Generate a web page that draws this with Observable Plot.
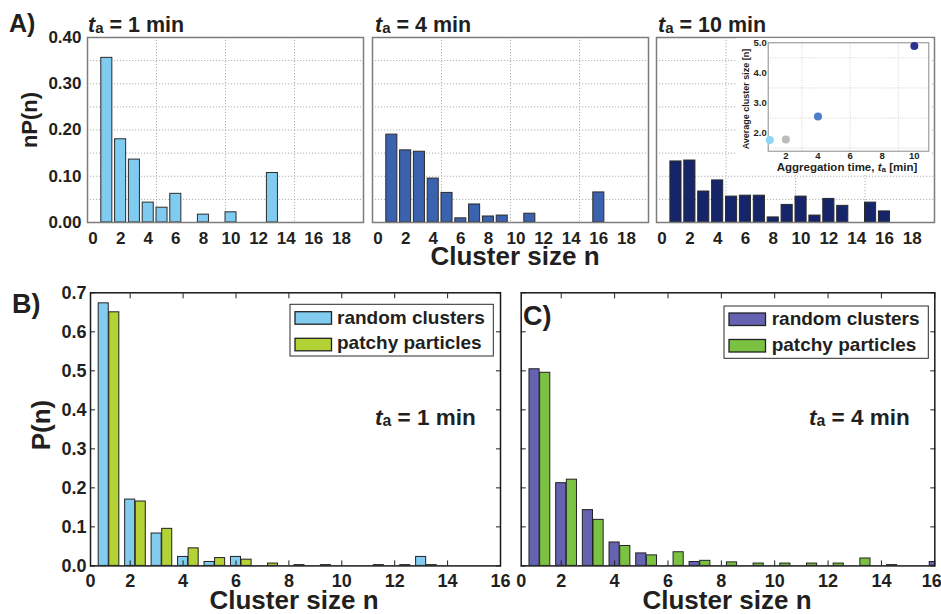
<!DOCTYPE html>
<html><head><meta charset="utf-8">
<script src="https://cdn.jsdelivr.net/npm/d3@7"></script>
<script src="https://cdn.jsdelivr.net/npm/@observablehq/plot@0.6"></script>
<style>
body{margin:0;background:#fff;}
#root{position:relative;width:941px;height:614px;overflow:hidden;background:#fff;}
#root svg{position:absolute;}
</style></head><body><div id="root"></div>
<script>
// ---------- data ----------
const sizesA1 = [1, 2, 3, 4, 5, 6, 8, 10, 13];
const nPA1 = [0.356, 0.180, 0.136, 0.043, 0.032, 0.062, 0.017, 0.022, 0.107];
const sizesA2 = [1, 2, 3, 4, 5, 6, 7, 8, 9, 11, 16];
const nPA2 = [0.190, 0.156, 0.153, 0.095, 0.064, 0.009, 0.039, 0.013, 0.015, 0.019, 0.065];
const sizesA3 = [1, 2, 3, 4, 5, 6, 7, 8, 9, 10, 11, 12, 13, 15, 16];
const nPA3 = [0.132, 0.134, 0.067, 0.091, 0.056, 0.058, 0.058, 0.011, 0.038, 0.056, 0.015, 0.051, 0.036, 0.043, 0.024];
const titlesA = ["1 min", "4 min", "10 min"];

const insetTimes = [1, 2, 4, 10];
const insetAvg = [1.77, 1.79, 2.55, 4.89];
const insetColors = ["#8fd6f6", "#bcbcbc", "#4a7ec9", "#29338f"];

const sizesBC = [1, 2, 3, 4, 5, 6, 7, 8, 9, 10, 11, 12, 13, 14, 15, 16];
const randomB = [0.673, 0.170, 0.083, 0.023, 0.010, 0.023, 0, 0, 0, 0, 0, 0, 0.023, 0, 0, 0];
const patchyB = [0.650, 0.165, 0.095, 0.045, 0.020, 0.016, 0.006, 0.002, 0.002, 0, 0.002, 0.002, 0.002, 0, 0, 0];
const randomC = [0.504, 0.212, 0.143, 0.060, 0.032, 0, 0.010, 0, 0, 0, 0, 0, 0, 0, 0, 0.010];
const patchyC = [0.495, 0.221, 0.118, 0.051, 0.027, 0.035, 0.013, 0.009, 0.006, 0.006, 0.006, 0.006, 0.019, 0.002, 0, 0];
const seriesNames = ["random clusters", "patchy particles"];

const ticksAX = [0, 2, 4, 6, 8, 10, 12, 14, 16, 18];
const ticksAY = [0, 0.1, 0.2, 0.3, 0.4];
const gridAY = [0.05, 0.1, 0.15, 0.2, 0.25, 0.3, 0.35];
const gridAX = [4.6, 9.6, 14.6];
const ticksBCX = [0.5, 2, 4, 6, 8, 10, 12, 14, 16];
const ticksBCY = [0, 0.1, 0.2, 0.3, 0.4, 0.5, 0.6, 0.7];
const insetTicksX = [2, 4, 6, 8, 10];
const insetTicksY = [2, 3, 4, 5];
const insetGridX = [3, 6, 9];
const insetGridY = [1.5, 2.5, 3.5, 4.5];

// ---------- styles ----------
const FONT = '"Liberation Sans", Arial, Helvetica, sans-serif';
const INK = "#231f20";
const colA = ["#80ccf0", "#3b62ae", "#16246a"];
const colB = ["#82cdef", "#b2d235"];
const colC = ["#6462b1", "#7cc242"];
const root = document.getElementById("root");

function place(el, left, top) {
  el.style.left = left + "px";
  el.style.top = top + "px";
  root.appendChild(el);
}

function panelA(sizes, vals, color, o) {
  const data = sizes.map((n, i) => ({n, v: vals[i]}));
  return Plot.plot({
    width: o.width, height: 250,
    marginLeft: o.ml, marginRight: o.mr, marginTop: 37, marginBottom: 28,
    x: {domain: [-0.4, 19.6], label: null},
    y: {domain: [0, 0.4], label: null, axis: o.yAxis ? undefined : null},
    style: {fontFamily: FONT, color: INK, background: "transparent", overflow: "visible"},
    marks: [
      Plot.gridY(gridAY, {stroke: "#9c9c9c", strokeOpacity: 1, strokeWidth: 0.8, strokeDasharray: "1.2,1.8"}),
      Plot.gridX(gridAX, {stroke: "#9c9c9c", strokeOpacity: 1, strokeWidth: 0.8, strokeDasharray: "1.2,1.8"}),
      Plot.rectY(data, {x1: d => d.n - 0.4, x2: d => d.n + 0.4, y: "v", fill: color, stroke: "#2b2b2b", strokeWidth: 1}),
      Plot.frame({stroke: "#7d7d7d", strokeWidth: 1.5}),
      Plot.axisX(ticksAX, {tickSize: 0, tickPadding: 9, fontSize: 17, fontWeight: "bold", label: null}),
      o.yAxis ? Plot.axisY(ticksAY, {tickSize: 0, tickPadding: 6, tickFormat: ".2f", fontSize: 17, fontWeight: "bold", label: null}) : null
    ]
  });
}

place(panelA(sizesA1, nPA1, colA[0], {width: 370, ml: 87, mr: 7, yAxis: true}), 0, 0);
place(panelA(sizesA2, nPA2, colA[1], {width: 290, ml: 8, mr: 6, yAxis: false}), 364, 0);
place(panelA(sizesA3, nPA3, colA[2], {width: 291, ml: 6, mr: 7, yAxis: false}), 650, 0);

// inset
const insetData = insetTimes.map((t, i) => ({t, avg: insetAvg[i], c: insetColors[i]}));
place(Plot.plot({
  width: 196, height: 136,
  marginLeft: 31.7, marginRight: 3.7, marginTop: 4.3, marginBottom: 23.3,
  x: {domain: [0.9, 10.9], label: null},
  y: {domain: [1.4, 5.0], label: null},
  style: {fontFamily: FONT, color: INK, background: "white", overflow: "visible"},
  marks: [
    Plot.gridX(insetGridX, {stroke: "#bdbdbd", strokeOpacity: 1, strokeWidth: 0.7, strokeDasharray: "1,1.5"}),
    Plot.gridY(insetGridY, {stroke: "#bdbdbd", strokeOpacity: 1, strokeWidth: 0.7, strokeDasharray: "1,1.5"}),
    Plot.frame({stroke: "#8a8a8a", strokeWidth: 1}),
    Plot.dot(insetData, {x: "t", y: "avg", r: 4, fill: d => d.c, stroke: "none"}),
    Plot.axisX(insetTicksX, {tickSize: 0, tickPadding: 1.5, fontSize: 9.5, fontWeight: "bold", label: null}),
    Plot.axisY(insetTicksY, {tickSize: 0, tickPadding: 1.5, tickFormat: ".1f", fontSize: 9.5, fontWeight: "bold", label: null})
  ]
}), 736, 38);

function panelBC(random, patchy, cols, o) {
  const dR = sizesBC.map((n, i) => ({n, v: random[i]})).filter(d => d.v > 0);
  const dG = sizesBC.map((n, i) => ({n, v: patchy[i]})).filter(d => d.v > 0);
  const blank = () => "";
  const tk = {stroke: INK, strokeWidth: 1, label: null, tickFormat: blank, tickSize: 5};
  const lab = {anchor: "bottom", tickSize: 0, tickPadding: 8, fontSize: 18, fontWeight: "bold", label: null,
    tickFormat: d => (d < 1 ? "0" : String(d))};
  const last = ticksBCX[ticksBCX.length - 1];
  return Plot.plot({
    width: o.width, height: 334,
    marginLeft: o.ml, marginRight: o.mr, marginTop: 12.3, marginBottom: 48.6,
    x: {domain: [0.5, 16], label: null},
    y: {domain: [0, 0.7], label: null},
    style: {fontFamily: FONT, color: INK, background: "transparent", overflow: "visible"},
    marks: [
      Plot.rectY(dR, {x1: d => d.n - 0.19, x2: d => d.n + 0.19, y: "v", fill: cols[0], stroke: "#222", strokeWidth: 1, clip: true}),
      Plot.rectY(dG, {x1: d => d.n + 0.21, x2: d => d.n + 0.59, y: "v", fill: cols[1], stroke: "#222", strokeWidth: 1, clip: true}),
      Plot.axisX(ticksBCX.slice(1), {...tk, anchor: "bottom", dy: -5}),
      Plot.axisX(ticksBCX.slice(1), {...tk, anchor: "top", dy: 5}),
      Plot.axisY(ticksBCY, {...tk, anchor: "left", dx: 5}),
      Plot.axisY(ticksBCY, {...tk, anchor: "right", dx: -5}),
      Plot.axisX(o.endLabel ? ticksBCX.slice(0, -1) : ticksBCX, lab),
      o.endLabel ? Plot.axisX([last], {...lab, textAnchor: "end", dx: 7}) : null,
      o.yLabels ? Plot.axisY(ticksBCY, {anchor: "left", tickSize: 0, tickPadding: 4, tickFormat: ".1f", fontSize: 18, fontWeight: "bold", label: null}) : null,
      Plot.frame({stroke: "#1a1a1a", strokeWidth: 1.5})
    ]
  });
}

place(panelBC(randomB, patchyB, colB, {width: 510, ml: 90, mr: 10, yLabels: true, endLabel: false}), 0, 280);
place(panelBC(randomC, patchyC, colC, {width: 431, ml: 10.7, mr: 6.7, yLabels: false, endLabel: true}), 510, 280);

// ---------- overlay text ----------
const ov = d3.select(root).append("svg")
  .attr("width", 941).attr("height", 614)
  .style("left", "0px").style("top", "0px")
  .attr("font-family", FONT).attr("fill", INK).attr("font-weight", "bold");

function label(x, y, size, txt, anchor = "start", rot = 0) {
  return ov.append("text").attr("font-size", size).attr("text-anchor", anchor)
    .attr("transform", `translate(${x},${y}) rotate(${rot})`).text(txt);
}
function taLabel(x, y, size, rest, anchor = "start", prefix = "") {
  const t = ov.append("text").attr("x", x).attr("y", y).attr("font-size", size).attr("text-anchor", anchor);
  if (prefix) t.append("tspan").text(prefix);
  t.append("tspan").attr("font-style", "italic").text("t");
  t.append("tspan").attr("font-size", size * 0.7).attr("dy", 1).text("a");
  t.append("tspan").attr("dy", -1).text(rest);
  return t;
}
function legend(x, y, w, h, cols, textX, rows) {
  ov.append("rect").attr("x", x).attr("y", y).attr("width", w).attr("height", h)
    .attr("fill", "white").attr("stroke", "#2a2a2a").attr("stroke-width", 1);
  rows.forEach((r, i) => {
    ov.append("rect").attr("x", x + 5).attr("y", r.sy).attr("width", 36.5).attr("height", 12.5)
      .attr("fill", cols[i]).attr("stroke", "#222").attr("stroke-width", 1.3);
    label(textX, r.by, 19, seriesNames[i]);
  });
}

label(9, 32, 25, "A)");
taLabel(88, 32, 21.5, " = " + titlesA[0]);
taLabel(375, 32, 21.5, " = " + titlesA[1]);
taLabel(658, 32, 21.5, " = " + titlesA[2]);
label(37, 120, 22, "nP(n)", "middle", -90);
label(515, 265, 26, "Cluster size n", "middle");

label(749, 99, 9, "Average cluster size [n]", "middle", -90);
taLabel(847, 171, 11.5, " [min]", "middle", "Aggregation time, ");

label(12, 313, 27, "B)");
label(50, 425, 26, "P(n)", "middle", -90);
taLabel(375, 425, 22.5, " = " + titlesA[0]);
label(294, 609, 26, "Cluster size n", "middle");
legend(290, 304.3, 203.3, 51.7, colB, 337, [{sy: 311.7, by: 323.5}, {sy: 338.3, by: 349}]);

label(523, 325, 27, "C)");
taLabel(809, 425, 22.5, " = " + titlesA[1]);
label(727, 609, 26, "Cluster size n", "middle");
legend(724, 306, 204.3, 52.3, colC, 771.7, [{sy: 313, by: 325}, {sy: 339.5, by: 350.5}]);
</script></body></html>
